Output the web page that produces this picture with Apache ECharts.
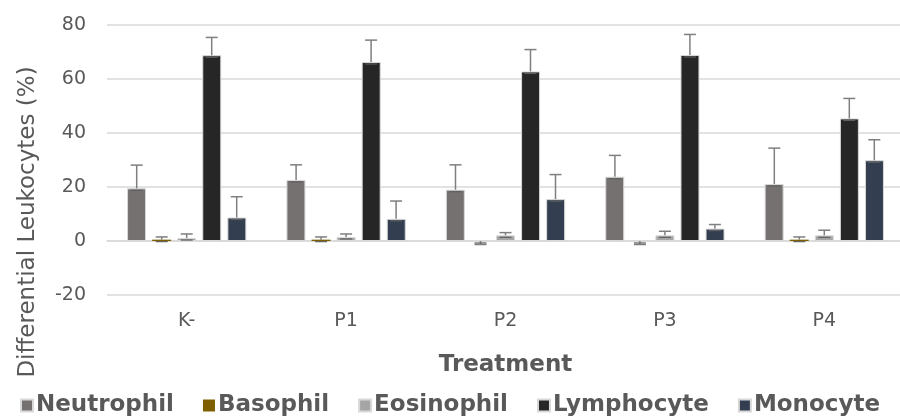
<!DOCTYPE html>
<html>
<head>
<meta charset="utf-8">
<script src="https://cdn.jsdelivr.net/npm/echarts@6/dist/echarts.min.js"></script>
<style>
  html, body { margin: 0; padding: 0; background: #fff; }
  #chart { width: 900px; height: 419px; }
</style>
</head>
<body>
<div id="chart"></div>
<script>
var categories = ['K-', 'P1', 'P2', 'P3', 'P4'];
var yTicks = [-20, 0, 20, 40, 60, 80];

var neutrophil    = [19.5, 22.6, 19.0, 23.8, 21.1];
var neutrophilErr = [8.6, 5.6, 9.2, 7.9, 13.3];
var basophil      = [0.5, 0.5, 0, 0, 0.5];
var basophilErr   = [1.0, 1.0, -1.3, -1.3, 1.0];
var eosinophil    = [1.1, 1.5, 2.1, 2.1, 2.1];
var eosinophilErr = [1.5, 1.1, 1.0, 1.5, 1.9];
var lymphocyte    = [68.8, 66.3, 62.8, 68.9, 45.4];
var lymphocyteErr = [6.6, 8.1, 8.1, 7.6, 7.4];
var monocyte      = [8.7, 8.2, 15.5, 4.6, 29.9];
var monocyteErr   = [7.7, 6.6, 9.1, 1.5, 7.6];

var names  = ['Neutrophil', 'Basophil', 'Eosinophil', 'Lymphocyte', 'Monocyte'];
var colors = ['#767171', '#7f6000', '#a5a5a5', '#262626', '#333f50'];
var values = [neutrophil, basophil, eosinophil, lymphocyte, monocyte];
var errs   = [neutrophilErr, basophilErr, eosinophilErr, lymphocyteErr, monocyteErr];

var font = 'DejaVu Sans';
var textColor = '#595959';
var barW = 19, step = 25;

function errorBar(offset) {
    return function(params, api) {
        var base = api.coord([api.value(0), api.value(1)]);
        var tip = api.coord([api.value(0), api.value(2)]);
        var x = base[0] + offset;
        var style = { stroke: '#7f7f7f', lineWidth: 1.5 };
        return {
            type: 'group',
            children: [
                { type: 'line', shape: { x1: x, y1: base[1], x2: x, y2: tip[1] }, style: style },
                { type: 'line', shape: { x1: x - 6, y1: tip[1], x2: x + 6, y2: tip[1] }, style: style },
                { type: 'line', shape: { x1: x - 6, y1: base[1] + 2, x2: x + 6, y2: base[1] + 2 }, style: { stroke: '#5f5f5f', lineWidth: 1.2 } }
            ]
        };
    };
}

var series = [];
names.forEach(function(n, i) {
    series.push({
        name: n,
        type: 'bar',
        barWidth: barW,
        barGap: ((step - barW) / barW * 100).toFixed(0) + '%',
        itemStyle: { color: colors[i], borderColor: '#d9d9d9', borderWidth: i === 1 ? 0 : 1 },
        data: values[i]
    });
});
names.forEach(function(n, i) {
    series.push({
        name: n + ' error',
        type: 'custom',
        z: 10,
        renderItem: errorBar((i - 2) * step),
        data: values[i].map(function(v, k) { return [k, v, v + errs[i][k]]; })
    });
});

var chart = echarts.init(document.getElementById('chart'));
var option = {
    animation: false,
    color: colors,
    grid: { left: 107, right: -4, top: 25, bottom: 124, containLabel: false, outerBoundsMode: 'none' },
    legend: {
        data: names,
        bottom: -3,
        left: 15,
        icon: 'rect',
        itemWidth: 12,
        itemHeight: 12,
        itemGap: 29,
        textStyle: { fontFamily: font, fontSize: 23, fontWeight: 'bold', color: textColor, padding: [0, 0, 0, -2] }
    },
    xAxis: {
        type: 'category',
        data: categories,
        name: 'Treatment',
        nameLocation: 'middle',
        nameGap: 59,
        nameTextStyle: { fontFamily: font, fontSize: 23, fontWeight: 'bold', color: textColor },
        axisLine: { onZero: true, lineStyle: { color: '#d9d9d9', width: 1.5 } },
        axisTick: { show: false },
        axisLabel: { fontFamily: font, fontSize: 19, color: textColor, margin: 17 }
    },
    yAxis: {
        type: 'value',
        min: yTicks[0],
        max: yTicks[yTicks.length - 1],
        interval: 20,
        axisLine: { show: false },
        axisTick: { show: false },
        splitLine: { lineStyle: { color: '#d9d9d9', width: 1.5 } },
        axisLabel: { fontFamily: font, fontSize: 19, color: textColor, margin: 21 }
    },
    graphic: [{
        type: 'text',
        x: 28,
        y: 222,
        rotation: Math.PI / 2,
        style: {
            text: 'Differential Leukocytes (%)',
            fontFamily: font,
            fontSize: 23,
            fill: textColor,
            align: 'center',
            verticalAlign: 'middle'
        }
    }],
    series: series
};
chart.setOption(option);
</script>
</body>
</html>
